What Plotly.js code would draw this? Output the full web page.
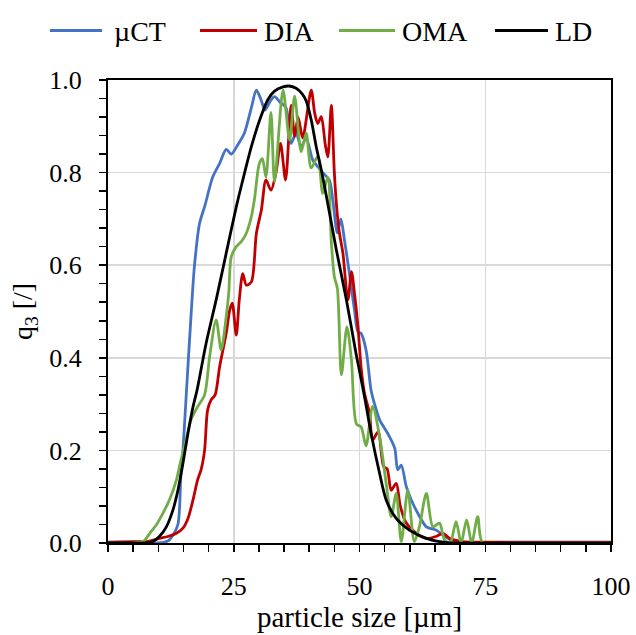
<!DOCTYPE html>
<html>
<head>
<meta charset="utf-8">
<script src="https://cdn.plot.ly/plotly-3.0.1.min.js"></script>
<style>html,body{margin:0;padding:0;background:#fff;}#chart{width:636px;height:635px;}</style>
</head>
<body>
<div id="chart"></div>
<script>
// particle size [µm] and q3 values
const ctX = [0,5,10,12,12.8,13.9,14.5,14.9,15.5,16.5,17.2,18.2,19.3,20.8,22.2,23.5,24.5,25.8,27.1,28.5,29.5,30.5,31.2,32.3,33.1,34.2,35.4,36.4,37.4,38.4,39.4,40.7,41.7,42.7,44.0,44.7,45.6,46.3,47.0,48.0,49.0,49.7,50.3,51.3,52.3,53.0,54.0,55.6,57.0,57.6,58.3,59.3,60.3,61.6,63.3,65.2,66.6,67.6,68.6,70,80,90,100];
const ctY = [0,0,0,0.005,0.015,0.04,0.15,0.2,0.31,0.49,0.6,0.69,0.73,0.79,0.82,0.85,0.84,0.86,0.885,0.94,0.978,0.955,0.935,0.955,0.964,0.952,0.94,0.863,0.885,0.856,0.874,0.827,0.813,0.8,0.784,0.74,0.67,0.7,0.655,0.582,0.503,0.456,0.453,0.417,0.33,0.3,0.266,0.237,0.205,0.158,0.168,0.122,0.093,0.064,0.035,0.028,0.017,0.01,0.003,0,0,0,0];

const diaX = [0,5,7.6,10.2,11.9,13.6,14.9,15.9,16.9,17.8,18.5,19.2,19.8,20.5,21.3,22.2,23.5,24.2,24.7,25.5,26.1,26.8,27.5,28.5,29.5,30.5,31.4,32.4,33.4,34.3,35.3,36.4,37.1,37.8,38.7,40.4,41.1,41.7,42.4,43.2,43.7,44.4,45.0,45.5,46.0,46.7,47.7,48.4,49.0,49.7,50.3,51.0,52.0,52.6,53.7,54.8,55.5,56.3,57.3,58.1,59.3,61.3,63.3,65.2,66.6,67.9,70.5,80,90,100];
const diaY = [0.002,0.003,0.003,0.01,0.014,0.021,0.032,0.053,0.093,0.136,0.158,0.2,0.287,0.309,0.32,0.381,0.453,0.503,0.518,0.449,0.525,0.582,0.557,0.564,0.669,0.72,0.784,0.762,0.8,0.863,0.784,0.945,0.878,0.92,0.875,0.978,0.928,0.906,0.921,0.86,0.834,0.945,0.8,0.72,0.67,0.626,0.525,0.586,0.539,0.467,0.381,0.323,0.28,0.222,0.24,0.165,0.16,0.114,0.129,0.08,0.043,0.021,0.01,0.014,0.021,0.01,0.003,0.002,0.002,0.002];

const omaX = [0,5,7,7.6,8.3,9.6,10.9,12.2,13.6,14.5,15.5,16.5,17.8,19.2,20.2,21.5,22.5,23.5,24.0,24.5,25.5,26.5,27.5,28.5,29.1,30.1,30.7,31.4,32.4,33.1,34.8,36.1,37.1,38.4,39.4,40.4,41.7,42.7,43.7,44.4,45.0,45.6,46.4,47.5,48.4,49.4,50.3,51.3,52.6,54.0,55.3,56.3,57.3,58.3,59.6,60.9,61.9,63.3,64.6,65.9,66.9,68,69.2,70.2,71.3,72.3,73.5,74.5,80,100];
const omaY = [0,0,0.003,0.01,0.021,0.039,0.064,0.093,0.136,0.179,0.222,0.266,0.294,0.32,0.402,0.482,0.417,0.489,0.539,0.618,0.64,0.651,0.669,0.705,0.741,0.82,0.83,0.79,0.93,0.78,0.978,0.87,0.965,0.845,0.885,0.81,0.835,0.755,0.79,0.65,0.575,0.55,0.363,0.467,0.395,0.257,0.251,0.21,0.295,0.23,0.129,0.057,0.107,0.003,0.114,0.003,0.035,0.107,0.035,0.043,0.007,0,0.046,0,0.05,0,0.057,0,0,0];

const ldX = [0,5,7.6,8.9,10.2,11.6,12.9,13.9,14.9,15.9,16.9,17.7,19.5,21.5,23.5,25.5,26.8,28.5,30.1,31.8,33.1,34.8,36.0,37.4,38.6,39.4,40.4,41.4,42.4,43.4,45.4,47.4,49.3,51.0,52.3,54.0,55.3,57.3,59.9,63.3,65.9,68,80,100];
const ldY = [0,0,0,0.003,0.014,0.035,0.071,0.114,0.172,0.237,0.294,0.33,0.431,0.525,0.626,0.726,0.784,0.856,0.912,0.958,0.976,0.985,0.987,0.982,0.97,0.955,0.914,0.856,0.806,0.75,0.633,0.525,0.41,0.316,0.237,0.15,0.093,0.053,0.028,0.01,0.003,0,0,0];

const seriesNames = ['\u00b5CT','DIA','OMA','LD'];
const seriesColors = ['#4472C4','#C00000','#70AD47','#000000'];
const xs = [ctX, diaX, omaX, ldX];
const ys = [ctY, diaY, omaY, ldY];

const traces = seriesNames.map((n,i)=>({
  type:'scatter', mode:'lines', name:n, x:xs[i], y:ys[i],
  line:{color:seriesColors[i], width:2.8, shape:'spline', smoothing:0.8},
  hoverinfo:'skip', showlegend:false
}));

// legend drawn as a row above the plot (pixel positions converted to paper coords)
const W = 636, H = 635, M = {l:108, r:25, t:80, b:92};
const pw = W - M.l - M.r, ph = H - M.t - M.b;
const px = v => (v - M.l) / pw;
const py = v => (H - M.b - v) / ph;
const legLine = [[50,102],[200,257],[339,395],[495,548]];
const legText = [112, 262, 400, 553];
const legY = 30.5;
const shapes = seriesNames.map((n,i)=>({
  type:'line', xref:'paper', yref:'paper',
  x0:px(legLine[i][0]), x1:px(legLine[i][1]), y0:py(legY), y1:py(legY),
  line:{color:seriesColors[i], width:3}
}));
const font = 'Liberation Serif, Times New Roman, serif';
const annotations = seriesNames.map((n,i)=>({
  text:n, xref:'paper', yref:'paper', x:px(legText[i]), y:py(legY+1),
  xanchor:'left', yanchor:'middle', showarrow:false,
  font:{size:28, family:font, color:'#000'}
}));

const layout = {
  width:W, height:H,
  margin:M,
  paper_bgcolor:'#fff', plot_bgcolor:'#fff',
  font:{family:font, color:'#000', size:26},
  showlegend:false,
  shapes:shapes, annotations:annotations,
  xaxis:{range:[0,100], tickvals:[0,25,50,75,100], ticktext:['0','25','50','75','100'],
         showgrid:true, gridcolor:'#d9d9d9', gridwidth:1.5, zeroline:false,
         showline:true, linecolor:'#000', linewidth:2, mirror:true,
         ticks:'outside', ticklen:7, tickwidth:1.5, tickcolor:'#000', ticklabelstandoff:12,
         minor:{dtick:5, ticks:'outside', ticklen:7, tickwidth:1.5, tickcolor:'#000', showgrid:false},
         tickfont:{size:26},
         title:{text:'particle size [\u00b5m]', font:{size:29}, standoff:2}},
  yaxis:{range:[0,1], tickvals:[0,0.2,0.4,0.6,0.8,1.0], ticktext:['0.0','0.2','0.4','0.6','0.8','1.0'],
         showgrid:true, gridcolor:'#d9d9d9', gridwidth:1.5, zeroline:false,
         showline:true, linecolor:'#000', linewidth:2, mirror:true,
         ticks:'outside', ticklen:7, tickwidth:1.5, tickcolor:'#000', ticklabelstandoff:12,
         minor:{dtick:0.04, ticks:'outside', ticklen:7, tickwidth:1.5, tickcolor:'#000', showgrid:false},
         tickfont:{size:26},
         title:{text:'q<sub>3</sub> [/]', font:{size:28}, standoff:8}}
};
Plotly.newPlot('chart', traces, layout, {staticPlot:true});
</script>
</body>
</html>
